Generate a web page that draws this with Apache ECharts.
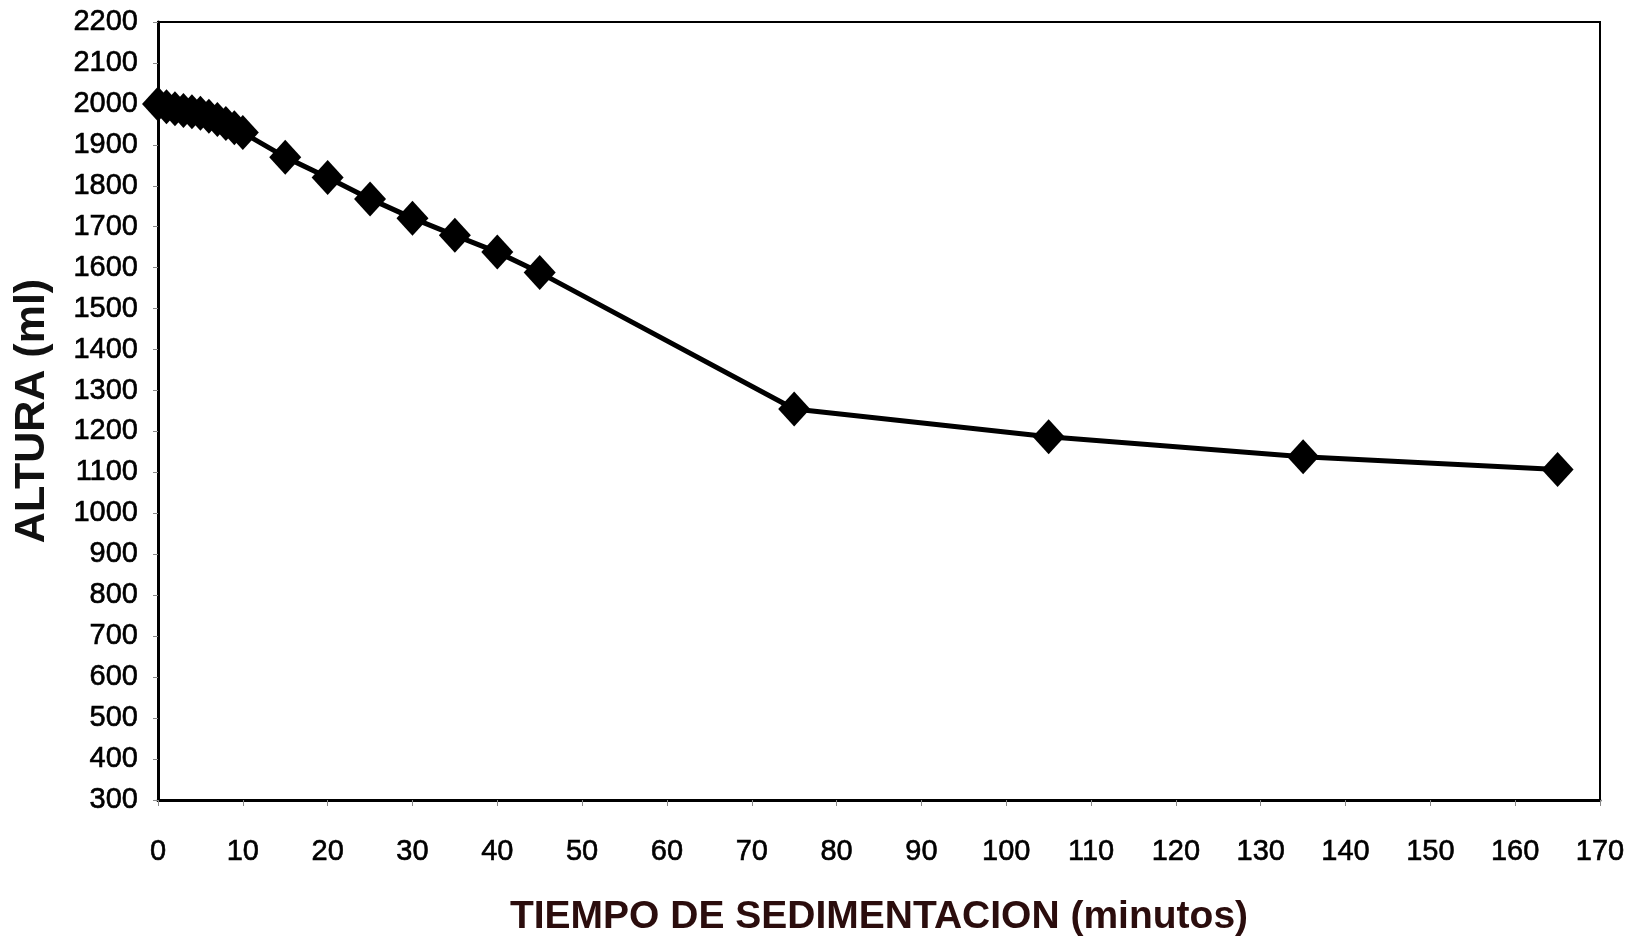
<!DOCTYPE html>
<html>
<head>
<meta charset="utf-8">
<script src="https://cdn.jsdelivr.net/npm/echarts@6/dist/echarts.min.js"></script>
<style>
  html, body { margin: 0; padding: 0; background: #fff; }
  #chart { width: 1635px; height: 942px; }
</style>
</head>
<body>
<div id="chart"></div>
<script>
// tiempo (minutos) y altura (ml)
let tiempo = [0, 1, 2, 3, 4, 5, 6, 7, 8, 9, 10, 15, 20, 25, 30, 35, 40, 45, 75, 105, 135, 165]
let altura = [2000, 1993, 1988, 1984, 1981, 1977, 1970, 1962, 1952, 1942, 1930, 1870, 1820, 1768, 1721, 1679, 1638, 1588, 1255, 1187, 1138, 1107]

let puntos = tiempo.map((t, i) => [t, altura[i]])

let myChart = echarts.init(document.getElementById('chart'))
let fuente = '"Liberation Sans", Arial, sans-serif'

// estilo de las etiquetas de los ejes (un poco más gruesas, como el original)
let etiqueta = {
    fontFamily: fuente,
    fontSize: 29,
    color: '#000',
    textBorderColor: '#000',
    textBorderWidth: 0.6
}

myChart.setOption({
    animation: false,
    backgroundColor: '#fff',
    grid: {
        left: 158,
        right: 35,
        top: 22,
        bottom: 139,
        show: true,
        borderColor: '#000',
        borderWidth: 2
    },
    xAxis: {
        type: 'value',
        min: 0,
        max: 170,
        interval: 10,
        name: 'TIEMPO DE SEDIMENTACION (minutos)',
        nameLocation: 'middle',
        nameGap: 98,
        nameTextStyle: {
            fontFamily: fuente,
            fontWeight: 'bold',
            fontSize: 39,
            color: '#2b0d0d'
        },
        axisLine: { lineStyle: { color: '#000', width: 3 } },
        axisTick: { length: 6, lineStyle: { color: '#888' } },
        splitLine: { show: false },
        axisLabel: Object.assign({ margin: 37 }, etiqueta)
    },
    yAxis: {
        type: 'value',
        min: 300,
        max: 2200,
        interval: 100,
        name: 'ALTURA (ml)',
        nameLocation: 'middle',
        nameGap: 104,
        nameTextStyle: {
            fontFamily: fuente,
            fontWeight: 'bold',
            fontSize: 43,
            color: '#111'
        },
        axisLine: { show: true, lineStyle: { color: '#000', width: 3 } },
        axisTick: { show: true, length: 5, lineStyle: { color: '#888' } },
        splitLine: { show: false },
        axisLabel: Object.assign({ margin: 20, formatter: v => String(v) }, etiqueta)
    },
    series: [{
        type: 'line',
        data: puntos,
        symbol: 'diamond',
        symbolSize: [32, 35],
        itemStyle: { color: '#000' },
        lineStyle: { color: '#000', width: 5 }
    }]
})
</script>
</body>
</html>
